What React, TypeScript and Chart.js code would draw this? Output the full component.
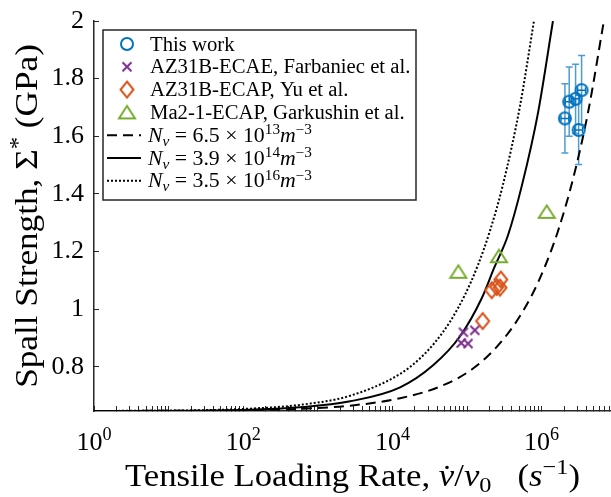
import { useEffect, useRef } from 'react';
import { Chart, registerables } from 'chart.js';

Chart.register(...registerables);

// ---------- data ----------
// This work (blue circles with error bars)
const rateThisWork = [2.05e6, 2.34e6, 2.85e6, 3.43e6, 3.13e6];
const spallThisWork = [1.662, 1.72, 1.73, 1.76, 1.622];
const spallErrThisWork = [0.12, 0.12, 0.12, 0.12, 0.12];
const rateErrFactorThisWork = [1.13, 1.13, 1.13, 1.13, 1.13];

// AZ31B-ECAE, Farbaniec et al. (purple x)
const rateFarbaniec = [8.93e4, 1.27e5, 8.36e4, 1.03e5];
const spallFarbaniec = [0.92, 0.927, 0.883, 0.881];

// AZ31B-ECAP, Yu et al. (orange diamonds)
const rateYu = [1.62e5, 2.14e5, 2.5e5, 2.83e5, 2.77e5];
const spallYu = [0.959, 1.066, 1.077, 1.103, 1.075];

// Ma2-1-ECAP, Garkushin et al. (green triangles)
const rateGarkushin = [7.65e4, 2.68e5, 1.17e6];
const spallGarkushin = [1.13, 1.184, 1.338];

// Model curves
const rateNv65e13 = [1, 124.5, 581, 2715, 12680, 46270, 116700, 237000, 439100, 741600, 1.107e6, 1.653e6, 2.624e6, 4.168e6, 6.823e6];
const spallNv65e13 = [0.647, 0.6497, 0.6545, 0.6656, 0.6913, 0.7347, 0.7917, 0.8628, 0.9497, 1.0497, 1.1483, 1.2708, 1.4507, 1.6806, 2.0];

const rateNv39e14 = [1, 26.7, 124.5, 581, 2715, 12680, 35060, 80600, 157300, 229900, 353900, 544900, 892300, 1.417e6];
const spallNv39e14 = [0.647, 0.6483, 0.6517, 0.6601, 0.6806, 0.7292, 0.8056, 0.9063, 1.0382, 1.1424, 1.2569, 1.4306, 1.6806, 2.0];

const rateNv35e16 = [1, 26.7, 124.5, 581, 2715, 12680, 23490, 37290, 59210, 94020, 140400, 203200, 303400, 512300, 788500];
const spallNv35e16 = [0.647, 0.6497, 0.6552, 0.6684, 0.7, 0.7757, 0.8299, 0.8854, 0.9569, 1.0507, 1.1542, 1.2729, 1.433, 1.7049, 2.0];

// Axes
const xMin = 1;
const xMax = 8.5e6;
const yMin = 0.647;
const yMax = 2;
const yTicks = [0.8, 1, 1.2, 1.4, 1.6, 1.8, 2];
const yTickLabels = ['0.8', '1', '1.2', '1.4', '1.6', '1.8', '2'];
const xMajorTicks = [1, 1e2, 1e4, 1e6];
const xTickBase = ['10', '10', '10', '10'];
const xTickExp = ['0', '2', '4', '6'];

const legendLabels = [
  'This work',
  'AZ31B-ECAE, Farbaniec et al.',
  'AZ31B-ECAP, Yu et al.',
  'Ma2-1-ECAP, Garkushin et al.',
];
const legendNvMantissa = ['6.5', '3.9', '3.5'];
const legendNvExp = ['13', '14', '16'];

// ---------- styles ----------
const BLUE = '#0072BD';
const PURPLE = '#7E2F8E';
const ORANGE = '#D95319';
const GREEN = '#77AC30';
const AXIS = '#262626';
const ERR = 'rgba(0,114,189,0.7)';
const FONT = '"Liberation Serif", "Times New Roman", serif';
const DASH = [10, 6];
const DOT = [2, 2];

type Run = { t: string; it?: boolean; sup?: boolean; sub?: boolean };

function drawRich(
  ctx: CanvasRenderingContext2D,
  runs: Run[],
  x: number,
  y: number,
  size: number,
  align: 'left' | 'center',
  stretch = 1
) {
  const fontFor = (r: Run) => `${r.it ? 'italic ' : ''}${r.sup || r.sub ? size * 0.7 : size}px ${FONT}`;
  let w = 0;
  for (const r of runs) {
    ctx.font = fontFor(r);
    w += ctx.measureText(r.t).width;
  }
  const x0 = align === 'center' ? x - (w * stretch) / 2 : x;
  ctx.save();
  ctx.translate(x0, y);
  ctx.scale(stretch, 1);
  ctx.textAlign = 'left';
  ctx.textBaseline = 'alphabetic';
  let cx = 0;
  for (const r of runs) {
    ctx.font = fontFor(r);
    const dy = r.sup ? -size * 0.38 : r.sub ? size * 0.2 : 0;
    ctx.fillText(r.t, cx, dy);
    cx += ctx.measureText(r.t).width;
  }
  ctx.restore();
}

function makeCanvas(w: number, h: number, draw: (c: CanvasRenderingContext2D) => void) {
  const c = document.createElement('canvas');
  c.width = w;
  c.height = h;
  const ctx = c.getContext('2d')!;
  draw(ctx);
  return c;
}

function makeMarkers() {
  const circle = makeCanvas(16, 16, (c) => {
    c.strokeStyle = BLUE;
    c.lineWidth = 2;
    c.beginPath();
    c.arc(8, 8, 6, 0, Math.PI * 2);
    c.stroke();
  });
  const cross = makeCanvas(14, 14, (c) => {
    c.strokeStyle = PURPLE;
    c.lineWidth = 2;
    c.beginPath();
    c.moveTo(2.5, 2.5);
    c.lineTo(11.5, 11.5);
    c.moveTo(11.5, 2.5);
    c.lineTo(2.5, 11.5);
    c.stroke();
  });
  const diamond = makeCanvas(18, 22, (c) => {
    c.strokeStyle = ORANGE;
    c.lineWidth = 2;
    c.beginPath();
    c.moveTo(9, 3);
    c.lineTo(15.5, 11);
    c.lineTo(9, 19);
    c.lineTo(2.5, 11);
    c.closePath();
    c.stroke();
  });
  const triangle = makeCanvas(20, 18, (c) => {
    c.strokeStyle = GREEN;
    c.lineWidth = 2;
    c.lineJoin = 'miter';
    c.beginPath();
    c.moveTo(10, 2.5);
    c.lineTo(18, 15);
    c.lineTo(2, 15);
    c.closePath();
    c.stroke();
  });
  return { circle, cross, diamond, triangle };
}

const toPts = (xs: number[], ys: number[]) => xs.map((x, i) => ({ x, y: ys[i] }));

export default function App() {
  const ref = useRef<HTMLCanvasElement>(null);

  useEffect(() => {
    if (!ref.current) return;
    const markers = makeMarkers();

    const errorBars = {
      id: 'errorBars',
      beforeDatasetsDraw(chart: any) {
        const { ctx } = chart;
        const x = chart.scales.x;
        const y = chart.scales.y;
        ctx.save();
        ctx.lineWidth = 1.5;
        rateThisWork.forEach((r, i) => {
          const px = x.getPixelForValue(r);
          const py = y.getPixelForValue(spallThisWork[i]);
          const yHi = y.getPixelForValue(spallThisWork[i] + spallErrThisWork[i]);
          const yLo = y.getPixelForValue(spallThisWork[i] - spallErrThisWork[i]);
          const xl = x.getPixelForValue(r / rateErrFactorThisWork[i]);
          const xr = x.getPixelForValue(r * rateErrFactorThisWork[i]);
          ctx.strokeStyle = ERR;
          ctx.beginPath();
          ctx.moveTo(px, yHi);
          ctx.lineTo(px, yLo);
          ctx.moveTo(px - 3.5, yHi);
          ctx.lineTo(px + 3.5, yHi);
          ctx.moveTo(px - 3.5, yLo);
          ctx.lineTo(px + 3.5, yLo);
          ctx.stroke();
          ctx.strokeStyle = BLUE;
          ctx.beginPath();
          ctx.moveTo(xl, py);
          ctx.lineTo(xr, py);
          ctx.moveTo(xl, py - 3);
          ctx.lineTo(xl, py + 3);
          ctx.moveTo(xr, py - 3);
          ctx.lineTo(xr, py + 3);
          ctx.stroke();
        });
        ctx.restore();
      },
    };

    const decorations = {
      id: 'decorations',
      afterDraw(chart: any) {
        const { ctx } = chart;
        const x = chart.scales.x;
        ctx.save();
        ctx.fillStyle = '#000';
        // x tick labels with exponents
        xMajorTicks.forEach((v, i) => {
          const px = x.getPixelForValue(v);
          drawRich(ctx, [{ t: xTickBase[i] }, { t: xTickExp[i], sup: true }], px, 450, 26, 'center');
        });
        // x title
        drawRich(
          ctx,
          [
            { t: 'Tensile Loading Rate, ' },
            { t: 'v\u0307', it: true },
            { t: '/' },
            { t: 'v', it: true },
            { t: '0', sub: true },
            { t: '   (' },
            { t: 's', it: true },
            { t: '\u22121', sup: true },
            { t: ')' },
          ],
          (chart.chartArea.left + chart.chartArea.right) / 2,
          486,
          31,
          'center',
          1.12
        );
        // y title
        ctx.save();
        ctx.translate(37, (chart.chartArea.top + chart.chartArea.bottom) / 2);
        ctx.rotate(-Math.PI / 2);
        drawRich(ctx, [{ t: 'Spall Strength, \u03A3' }, { t: '*', sup: true }, { t: ' (GPa)' }], 0, 0, 32, 'center', 1.1);
        ctx.restore();

        // legend
        const bx = 103, by = 30, bw = 313, bh = 170;
        ctx.fillStyle = '#fff';
        ctx.fillRect(bx, by, bw, bh);
        ctx.strokeStyle = AXIS;
        ctx.lineWidth = 1.5;
        ctx.strokeRect(bx, by, bw, bh);
        const rowY = (i: number) => 44 + i * 22.8;
        const mk = [markers.circle, markers.cross, markers.diamond, markers.triangle];
        const fs = 20;
        legendLabels.forEach((lab, i) => {
          const cy = rowY(i);
          const m = mk[i];
          ctx.drawImage(m, 127 - m.width / 2, cy - m.height / 2);
          ctx.fillStyle = '#000';
          drawRich(ctx, [{ t: lab }], 150, cy + 6.5, fs, 'left', 1.035);
        });
        const dashes = [DASH, [], DOT];
        legendNvMantissa.forEach((mant, j) => {
          const cy = rowY(4 + j);
          ctx.save();
          ctx.strokeStyle = '#000';
          ctx.lineWidth = 2;
          ctx.setLineDash(dashes[j]);
          ctx.beginPath();
          ctx.moveTo(107, cy);
          ctx.lineTo(141, cy);
          ctx.stroke();
          ctx.restore();
          ctx.fillStyle = '#000';
          drawRich(
            ctx,
            [
              { t: 'N', it: true },
              { t: 'v', it: true, sub: true },
              { t: ' = ' + mant + ' \u00D7 10' },
              { t: legendNvExp[j], sup: true },
              { t: 'm', it: true },
              { t: '\u22123', sup: true },
            ],
            148,
            cy + 6.5,
            fs,
            'left',
            1.09
          );
        });
        ctx.restore();
      },
    };

    const gridCommon = { drawOnChartArea: false, drawTicks: true, tickLength: -5, color: AXIS, lineWidth: 1 };
    const borderCommon = { display: true, color: AXIS, width: 1.5 };

    const chart = new Chart(ref.current, {
      type: 'scatter',
      data: {
        datasets: [
          { label: legendLabels[0], data: toPts(rateThisWork, spallThisWork), pointStyle: markers.circle, pointRadius: 6 },
          { label: legendLabels[1], data: toPts(rateFarbaniec, spallFarbaniec), pointStyle: markers.cross, pointRadius: 6 },
          { label: legendLabels[2], data: toPts(rateYu, spallYu), pointStyle: markers.diamond, pointRadius: 6 },
          { label: legendLabels[3], data: toPts(rateGarkushin, spallGarkushin), pointStyle: markers.triangle, pointRadius: 6 },
          {
            type: 'line',
            label: 'Nv 6.5e13',
            data: toPts(rateNv65e13, spallNv65e13),
            borderColor: '#000',
            borderWidth: 2,
            borderDash: DASH,
            pointRadius: 0,
            cubicInterpolationMode: 'monotone',
            fill: false,
          },
          {
            type: 'line',
            label: 'Nv 3.9e14',
            data: toPts(rateNv39e14, spallNv39e14),
            borderColor: '#000',
            borderWidth: 2,
            pointRadius: 0,
            cubicInterpolationMode: 'monotone',
            fill: false,
          },
          {
            type: 'line',
            label: 'Nv 3.5e16',
            data: toPts(rateNv35e16, spallNv35e16),
            borderColor: '#000',
            borderWidth: 2,
            borderDash: DOT,
            pointRadius: 0,
            cubicInterpolationMode: 'monotone',
            fill: false,
          },
        ] as any,
      },
      options: {
        animation: false,
        responsive: false,
        maintainAspectRatio: false,
        layout: { autoPadding: false, padding: { top: 21, right: 0, left: 0, bottom: 0 } },
        plugins: { legend: { display: false }, tooltip: { enabled: false } },
        scales: {
          x: {
            type: 'logarithmic',
            position: 'bottom',
            min: xMin,
            max: xMax,
            afterBuildTicks: (s: any) => {
              const t: { value: number }[] = [];
              for (let e = 0; e <= 7; e++) {
                for (let d = 1; d <= 9; d++) {
                  const v = d * Math.pow(10, e);
                  if (v >= xMin && v <= xMax) t.push({ value: v });
                }
              }
              s.ticks = t;
            },
            afterFit: (s: any) => {
              s.height = 86;
              s.paddingLeft = 0;
              s.paddingRight = 0;
            },
            ticks: { callback: () => '', autoSkip: false, maxRotation: 0, padding: 0 },
            grid: gridCommon,
            border: borderCommon,
          },
          y: {
            type: 'linear',
            position: 'left',
            min: yMin,
            max: yMax,
            afterBuildTicks: (s: any) => {
              s.ticks = yTicks.map((v) => ({ value: v }));
            },
            afterFit: (s: any) => {
              s.width = 94;
              s.paddingTop = 0;
              s.paddingBottom = 0;
            },
            ticks: {
              callback: (_v: any, i: number) => yTickLabels[i],
              font: { family: FONT, size: 26, lineHeight: 0.4 },
              color: '#000',
              padding: 15,
              autoSkip: false,
            },
            grid: gridCommon,
            border: borderCommon,
          },
        },
      } as any,
      plugins: [errorBars, decorations],
    });
    return () => chart.destroy();
  }, []);

  return (
    <div style={{ position: 'absolute', left: 0, top: 0, width: 611, height: 497, background: '#fff' }}>
      <canvas ref={ref} width={611} height={497} style={{ display: 'block' }} />
    </div>
  );
}
